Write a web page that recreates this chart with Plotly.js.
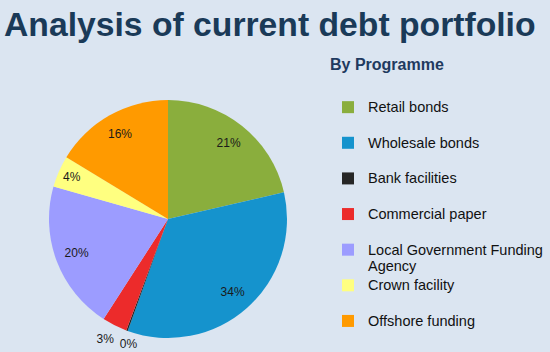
<!DOCTYPE html>
<html>
<head>
<meta charset="utf-8">
<script src="https://cdn.plot.ly/plotly-3.0.1.min.js"></script>
<style>
html,body{margin:0;padding:0;background:#dbe5f1;}
#chart{width:550px;height:352px;}
</style>
</head>
<body>
<div id="chart"></div>
<script>
// ---- data ----
const categories = ["Retail bonds", "Wholesale bonds", "Bank facilities", "Commercial paper",
  "Local Government Funding Agency", "Crown facility", "Offshore funding"];
const shares = [21.4, 34.1, 0.2, 3.4, 20.3, 4.3, 16.3];
const sliceColors = ["#8aae3d", "#1593cd", "#262626", "#ec2b2b", "#9c9cff", "#ffff80", "#ff9a00"];
// where each slice's percentage label sits: "ring" = inside near the rim, "outA"/"outB" = outside
const labelPlacement = ["ring", "ring", "outB", "outA", "ring", "ring", "ring"];
const chartTitle = "Analysis of current debt portfolio";
const legendTitle = "By Programme";

const FONT = "Arial, 'Liberation Sans', sans-serif";

// wrap long legend names and pad every entry to two lines
function legendText(name) {
  const maxLen = 25;
  const words = name.split(" ");
  const lines = [];
  let cur = "";
  words.forEach(w => {
    if ((cur + " " + w).trim().length > maxLen) { lines.push(cur); cur = w; }
    else cur = (cur + " " + w).trim();
  });
  lines.push(cur);
  while (lines.length < 2) lines.push("\u00a0");
  return lines.map(l => '<span style="font-size:14.5px">' + l + '</span>').join("<br>");
}
const displayLabels = categories.map(legendText);
const W = 550, H = 352;
const pieDomain = {x: [0.0891, 0.5218], y: [0.0398, 0.7159]};
// transparent copies nudged by a few pixels lay out the outside labels
function nudged(dxPx, dyPx) {
  return {
    x: pieDomain.x.map(v => v + dxPx / W),
    y: pieDomain.y.map(v => v - dyPx / H)
  };
}
const labelFont = {family: FONT, size: 12, color: "#1a1a1a"};
const clear = sliceColors.map(() => "rgba(0,0,0,0)");

function pieTrace(extra) {
  return Object.assign({
    type: "pie",
    labels: displayLabels,
    values: shares,
    sort: false,
    direction: "clockwise",
    rotation: 0,
    texttemplate: "%{percent:.0%}",
    insidetextorientation: "horizontal",
    textfont: labelFont,
    insidetextfont: labelFont,
    outsidetextfont: labelFont,
    hoverinfo: "none",
    domain: pieDomain
  }, extra);
}

// coloured pie
const pie = pieTrace({
  marker: {colors: sliceColors, line: {width: 0}},
  textposition: labelPlacement.map(() => "none")
});

// transparent overlay: rim labels
const rimLabels = pieTrace({
  hole: 0.64,
  showlegend: false,
  marker: {colors: clear, line: {width: 0}},
  textposition: labelPlacement.map(p => p === "ring" ? "inside" : "none")
});

// transparent overlays: outside labels of the two thin slices
const outA = pieTrace({
  showlegend: false,
  marker: {colors: clear, line: {width: 0}},
  textposition: labelPlacement.map(p => p === "outA" ? "outside" : "none"),
  domain: nudged(3, 8)
});
const outB = pieTrace({
  showlegend: false,
  marker: {colors: clear, line: {width: 0}},
  textposition: labelPlacement.map(p => p === "outB" ? "outside" : "none"),
  domain: nudged(14, 7)
});

const layout = {
  width: W, height: H,
  margin: {l: 0, r: 0, t: 0, b: 0},
  paper_bgcolor: "#dbe5f1",
  plot_bgcolor: "#dbe5f1",
  title: {
    text: chartTitle,
    font: {family: FONT, size: 33.7, color: "#1a3a58", weight: "bold"},
    x: 4 / W, xanchor: "left", xref: "container",
    y: 1 - 24 / H, yanchor: "middle", yref: "container"
  },
  showlegend: true,
  legend: {
    x: 328 / W, xanchor: "left",
    y: 1 - 61.5 / H, yanchor: "top",
    bgcolor: "rgba(0,0,0,0)",
    valign: "top",
    font: {family: FONT, size: 12.55, color: "#111111"},
    title: {
      text: '<span style="font-size:16px">' + legendTitle + '</span><br>\u00a0',
      font: {family: FONT, size: 17.5, color: "#1f3a5f", weight: "bold"}
    }
  }
};

Plotly.newPlot("chart", [pie, rimLabels, outA, outB], layout, {displayModeBar: false, staticPlot: true});
</script>
</body>
</html>
